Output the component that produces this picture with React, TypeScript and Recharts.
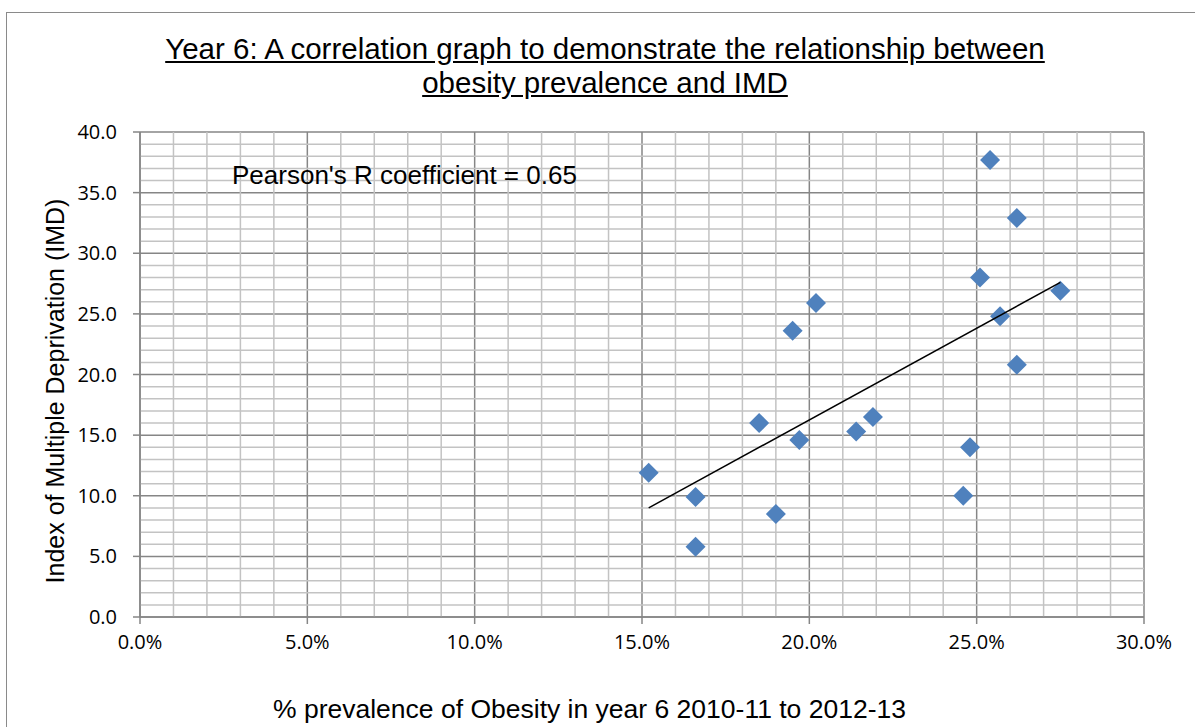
import { ScatterChart, Scatter, XAxis, YAxis, CartesianGrid, ReferenceLine } from 'recharts';

// % prevalence of obesity in year 6 (x) against IMD score (y), one entry per area
const obesityPct = [15.2, 16.6, 16.6, 18.5, 19.0, 19.7, 21.4, 21.9, 24.6, 24.8, 25.4, 26.2, 25.1, 27.5, 25.7, 26.2, 20.2, 19.5];
const imdScore = [11.9, 9.9, 5.8, 16.0, 8.5, 14.6, 15.3, 16.5, 10.0, 14.0, 37.7, 32.9, 28.0, 26.9, 24.8, 20.8, 25.9, 23.6];

// linear trendline, end points
const trendX = [15.2, 27.5];
const trendY = [9.0, 27.6];

const xTicks = [0, 5, 10, 15, 20, 25, 30];
const yTicks = [0, 5, 10, 15, 20, 25, 30, 35, 40];

// minor gridlines every 1 unit between the major ticks
const xMinor = Array.from({ length: 31 }, (_, i) => i).filter((v) => v % 5 !== 0);
const yMinor = Array.from({ length: 41 }, (_, i) => i).filter((v) => v % 5 !== 0);

const points = obesityPct.map((x, i) => ({ x, y: imdScore[i] }));
const trend = trendX.map((x, i) => ({ x, y: trendY[i] }));

const MAJOR = '#868686';
const MINOR = '#c3c3c3';
const TICK_FONT = '"Open Sans", sans-serif';

// blue diamond marker like the Excel default
const Diamond = (props: any) => {
  const { cx, cy } = props;
  const r = 10;
  return <polygon points={`${cx},${cy - r} ${cx + r},${cy} ${cx},${cy + r} ${cx - r},${cy}`} fill="#4f81bd" />;
};

const XTick = (props: any) => {
  const { x, y, payload } = props;
  return (
    <text x={x} y={y + 21} textAnchor="middle" fontSize={20} fontFamily={TICK_FONT} fill="#000">
      {payload.value.toFixed(1)}%
    </text>
  );
};

const YTick = (props: any) => {
  const { x, y, payload } = props;
  return (
    <text x={x} y={y + 7} textAnchor="end" fontSize={20} fontFamily={TICK_FONT} fill="#000">
      {payload.value.toFixed(1)}
    </text>
  );
};

export default function App() {
  return (
    <div style={{ position: 'absolute', left: 0, top: 0, width: 1195, height: 727, overflow: 'hidden', background: '#fff', fontFamily: '"Liberation Sans", Arial, sans-serif' }}>
      <div style={{ position: 'absolute', left: 6, top: 12, width: 1400, height: 1000, border: '1.5px solid #8a8a8a' }} />

      <ScatterChart width={1195} height={727} margin={{ top: 132, right: 51, bottom: 70, left: 80 }} style={{ position: 'absolute', left: 0, top: 0 }}>
        <CartesianGrid stroke={MAJOR} strokeWidth={1.5} />
        {xMinor.map((v) => (
          <ReferenceLine key={'x' + v} x={v} stroke={MINOR} strokeWidth={1.5} />
        ))}
        {yMinor.map((v) => (
          <ReferenceLine key={'y' + v} y={v} stroke={MINOR} strokeWidth={1.5} />
        ))}
        <XAxis
          type="number"
          dataKey="x"
          domain={[0, 30]}
          ticks={xTicks}
          height={40}
          tickSize={7}
          tickMargin={4}
          tick={<XTick />}
          axisLine={{ stroke: MAJOR, strokeWidth: 1.5 }}
          tickLine={{ stroke: MAJOR, strokeWidth: 1.5 }}
          interval={0}
        />
        <YAxis
          type="number"
          dataKey="y"
          domain={[0, 40]}
          ticks={yTicks}
          width={60}
          tickSize={7}
          tickMargin={16}
          tick={<YTick />}
          axisLine={{ stroke: MAJOR, strokeWidth: 1.5 }}
          tickLine={{ stroke: MAJOR, strokeWidth: 1.5 }}
          interval={0}
        />
        <Scatter data={points} shape={<Diamond />} isAnimationActive={false} />
        <Scatter data={trend} line={{ stroke: '#000', strokeWidth: 1.5 }} shape={() => <g />} isAnimationActive={false} />
      </ScatterChart>

      <div style={{ position: 'absolute', left: 0, width: 1210, top: 32, textAlign: 'center', fontSize: 29.5, lineHeight: '34px', textDecoration: 'underline', color: '#000' }}>
        Year 6: A correlation graph to demonstrate the relationship between
        <br />
        obesity prevalence and IMD
      </div>

      <div style={{ position: 'absolute', left: 232, top: 160, fontSize: 26, lineHeight: '30px', color: '#000', whiteSpace: 'nowrap' }}>
        Pearson's R coefficient = 0.65
      </div>

      <div style={{ position: 'absolute', left: 55, top: 391, width: 0, height: 0 }}>
        <div style={{ position: 'absolute', left: 0, top: 0, transform: 'translate(-50%, -50%) rotate(-90deg)', fontSize: 25, lineHeight: '28px', whiteSpace: 'nowrap', color: '#000' }}>
          Index of Multiple Deprivation (IMD)
        </div>
      </div>

      <div style={{ position: 'absolute', left: 0, width: 1179, top: 694, textAlign: 'center', fontSize: 26.5, lineHeight: '30px', color: '#000', whiteSpace: 'nowrap' }}>
        % prevalence of Obesity in year 6 2010-11 to 2012-13
      </div>
    </div>
  );
}
